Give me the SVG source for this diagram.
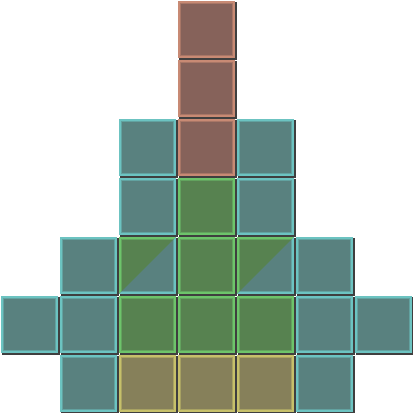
<svg xmlns="http://www.w3.org/2000/svg" width="413" height="413" viewBox="0 0 413 413">
<style>
.sh{fill:#3f3f3f}
.t{--f:#59817f;--b:#6cc3c1;--i:#62a2a0}
.r{--f:#86625a;--b:#c88a74;--i:#a87666}
.g{--f:#578250;--b:#6dc46a;--i:#62a35e}
.y{--f:#86805a;--b:#c6c06a;--i:#a8a262}
.cf{fill:var(--f)}
.cb{fill:none;stroke:var(--b);stroke-width:2}
.ci{fill:none;stroke:var(--i);stroke-width:1}
</style>
<defs>
<g id="cell"><rect class="cf" x="0" y="0" width="57" height="57"/><rect class="ci" x="2.5" y="2.5" width="52" height="52"/><rect class="cb" x="1" y="1" width="55" height="55"/></g>
<clipPath id="tri"><polygon points="57,0 57,57 0,57"/></clipPath>
</defs>
<g id="shadows">
<rect class="sh" x="179" y="2" width="58" height="58"/>
<rect class="sh" x="179" y="61" width="58" height="58"/>
<rect class="sh" x="120" y="120" width="58" height="58"/><rect class="sh" x="179" y="120" width="58" height="58"/><rect class="sh" x="238" y="120" width="58" height="58"/>
<rect class="sh" x="120" y="179" width="58" height="58"/><rect class="sh" x="179" y="179" width="58" height="58"/><rect class="sh" x="238" y="179" width="58" height="58"/>
<rect class="sh" x="61" y="238" width="58" height="58"/><rect class="sh" x="120" y="238" width="58" height="58"/><rect class="sh" x="179" y="238" width="58" height="58"/><rect class="sh" x="238" y="238" width="58" height="58"/><rect class="sh" x="297" y="238" width="58" height="58"/>
<rect class="sh" x="2" y="297" width="58" height="58"/><rect class="sh" x="61" y="297" width="58" height="58"/><rect class="sh" x="120" y="297" width="58" height="58"/><rect class="sh" x="179" y="297" width="58" height="58"/><rect class="sh" x="238" y="297" width="58" height="58"/><rect class="sh" x="297" y="297" width="58" height="58"/><rect class="sh" x="356" y="297" width="58" height="58"/>
<rect class="sh" x="61" y="356" width="58" height="58"/><rect class="sh" x="120" y="356" width="58" height="58"/><rect class="sh" x="179" y="356" width="58" height="58"/><rect class="sh" x="238" y="356" width="58" height="58"/><rect class="sh" x="297" y="356" width="58" height="58"/>
</g>
<g id="c-0-3" class="r" transform="translate(178,1)"><use href="#cell"/></g>
<g id="c-1-3" class="r" transform="translate(178,60)"><use href="#cell"/></g>
<g id="c-2-2" class="t" transform="translate(119,119)"><use href="#cell"/></g>
<g id="c-2-3" class="r" transform="translate(178,119)"><use href="#cell"/></g>
<g id="c-2-4" class="t" transform="translate(237,119)"><use href="#cell"/></g>
<g id="c-3-2" class="t" transform="translate(119,178)"><use href="#cell"/></g>
<g id="c-3-3" class="g" transform="translate(178,178)"><use href="#cell"/></g>
<g id="c-3-4" class="t" transform="translate(237,178)"><use href="#cell"/></g>
<g id="c-4-1" class="t" transform="translate(60,237)"><use href="#cell"/></g>
<g id="c-4-2" transform="translate(119,237)"><g class="g"><use href="#cell"/></g><g class="t" clip-path="url(#tri)"><use href="#cell"/></g></g>
<g id="c-4-3" class="g" transform="translate(178,237)"><use href="#cell"/></g>
<g id="c-4-4" transform="translate(237,237)"><g class="g"><use href="#cell"/></g><g class="t" clip-path="url(#tri)"><use href="#cell"/></g></g>
<g id="c-4-5" class="t" transform="translate(296,237)"><use href="#cell"/></g>
<g id="c-5-0" class="t" transform="translate(1,296)"><use href="#cell"/></g>
<g id="c-5-1" class="t" transform="translate(60,296)"><use href="#cell"/></g>
<g id="c-5-2" class="g" transform="translate(119,296)"><use href="#cell"/></g>
<g id="c-5-3" class="g" transform="translate(178,296)"><use href="#cell"/></g>
<g id="c-5-4" class="g" transform="translate(237,296)"><use href="#cell"/></g>
<g id="c-5-5" class="t" transform="translate(296,296)"><use href="#cell"/></g>
<g id="c-5-6" class="t" transform="translate(355,296)"><use href="#cell"/></g>
<g id="c-6-1" class="t" transform="translate(60,355)"><use href="#cell"/></g>
<g id="c-6-2" class="y" transform="translate(119,355)"><use href="#cell"/></g>
<g id="c-6-3" class="y" transform="translate(178,355)"><use href="#cell"/></g>
<g id="c-6-4" class="y" transform="translate(237,355)"><use href="#cell"/></g>
<g id="c-6-5" class="t" transform="translate(296,355)"><use href="#cell"/></g>
<g id="connectors"/>
</svg>
